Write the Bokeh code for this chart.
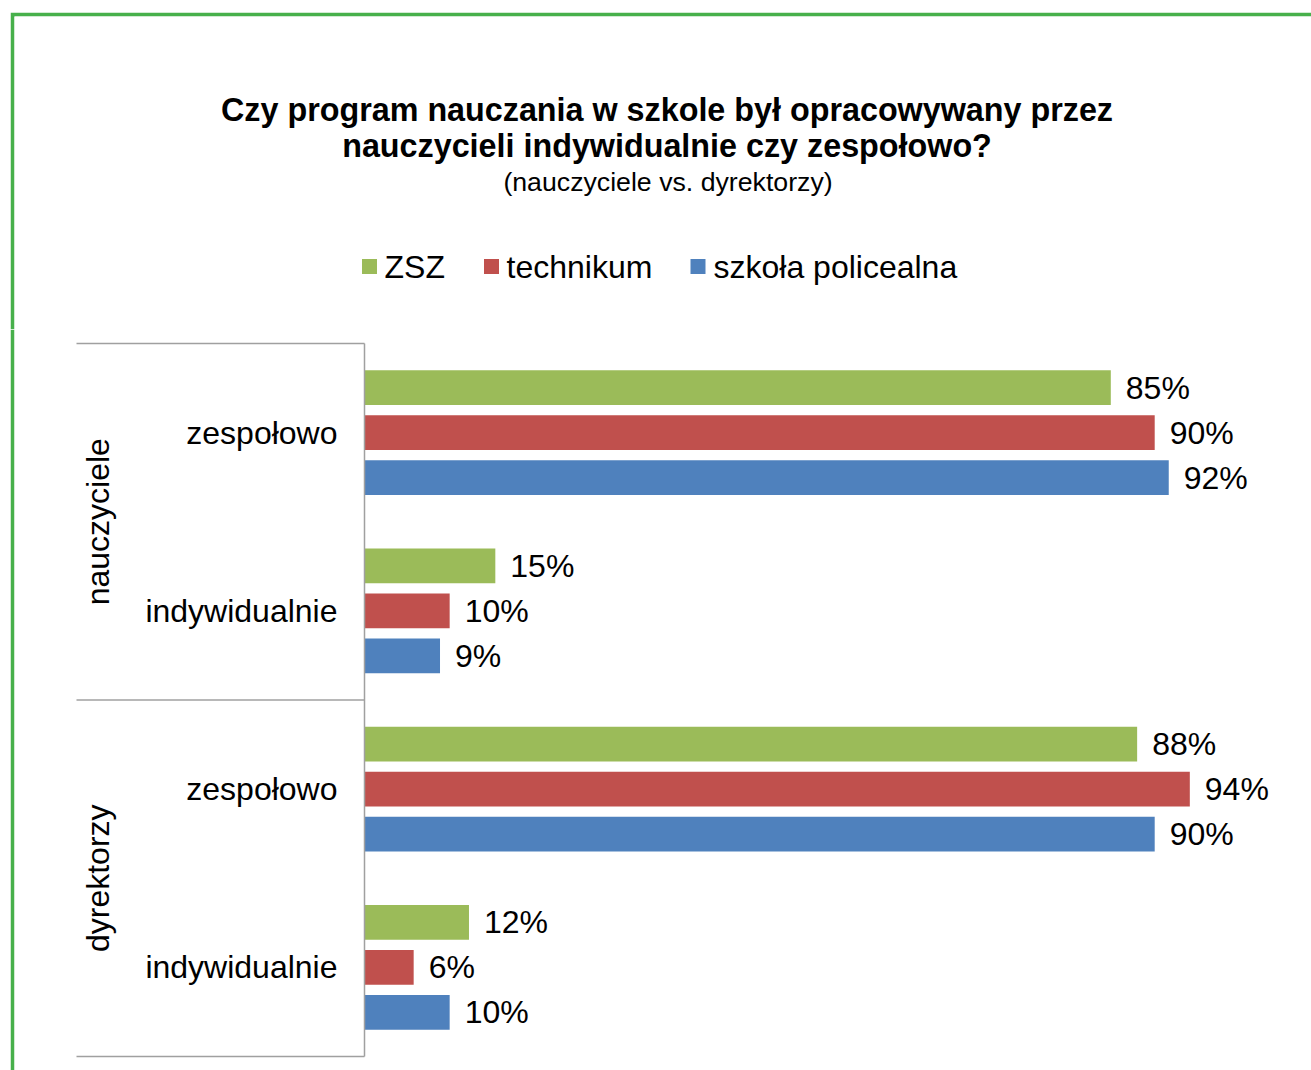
import math
from bokeh.plotting import figure
from bokeh.models import ColumnDataSource, FactorRange, Range1d, Spacer
from bokeh.layouts import row, column
from bokeh.transform import dodge
from bokeh.core.properties import value
from bokeh.embed import file_html
from bokeh.resources import INLINE

# ---------------- data ----------------
title_lines = ["Czy program nauczania w szkole był opracowywany przez",
               "nauczycieli indywidualnie czy zespołowo?"]
subtitle = "(nauczyciele vs. dyrektorzy)"
groups = ["nauczyciele", "dyrektorzy"]
answers = ["zespołowo", "indywidualnie"]
series = ["ZSZ", "technikum", "szkoła policealna"]
# percent, rows: nauczyciele/zespołowo, nauczyciele/indywidualnie, dyrektorzy/zespołowo, dyrektorzy/indywidualnie
zsz = [85, 14.9, 88, 11.9]
technikum = [90, 9.7, 94, 5.6]
policealna = [91.6, 8.6, 90, 9.7]

# ---------------- style / layout ----------------
FONT = "Liberation Sans"
GREEN = "#47B04B"
colors = ["#9BBB59", "#C0504D", "#4F81BD"]
AXIS_GRAY = "#A0A0A0"
PX = 8.78            # pixels per percentage point
W = 1301
HA = 317
HB = 741

# ---------------- header figure ----------------
fa = figure(width=W, height=HA, title=None, output_backend="svg", toolbar_location=None,
            x_range=Range1d(0, W - 4), y_range=Range1d(HA - 4, 0),
            x_axis_location=None, y_axis_location=None,
            min_border_left=4, min_border_top=4, min_border_right=0, min_border_bottom=0,
            border_fill_color=GREEN, background_fill_color="white", outline_line_color=None)
fa.grid.visible = False

fa.text(x=[652.5, 652.5], y=[93, 129.5], text=title_lines, text_align="center",
        text_baseline="middle", text_font=value(FONT), text_font_style="bold",
        text_font_size="32.3px", text_color="black")
fa.text(x=[653.5], y=[165], text=[subtitle], text_align="center",
        text_baseline="middle", text_font=value(FONT),
        text_font_size="26.7px", text_color="black")

leg_sq_x = [355, 477, 683.5]
leg_tx_x = [370, 492, 699]
fa.rect(x=leg_sq_x, y=[250] * 3, width=15, height=15, fill_color=colors, line_color=None)
fa.text(x=leg_tx_x, y=[250] * 3, text=series, text_baseline="middle",
        text_font=value(FONT), text_font_size="32px", text_color="black")

# ---------------- bar figure ----------------
rows = [(g, a) for g in groups for a in answers]
factors = list(reversed(rows))   # first factor is drawn at the bottom
pad_units = 14 / (713 / 4)
y_range = FactorRange(factors=factors, group_padding=0, factor_padding=0,
                      range_padding=pad_units * 2 / 4, range_padding_units="percent")
x_range = Range1d(-350 / PX, (W - 4 - 350) / PX)

p = figure(width=W, height=HB, title=None, output_backend="svg", toolbar_location=None,
           x_range=x_range, y_range=y_range,
           x_axis_location=None, y_axis_location=None,
           min_border_left=4, min_border_top=0, min_border_right=0, min_border_bottom=0,
           border_fill_color=GREEN, background_fill_color="white", outline_line_color=None)
p.grid.visible = False

fmt = lambda vals: [f"{v:.0f}%" for v in vals]
src = ColumnDataSource(dict(cat=rows, zsz=zsz, tech=technikum, pol=policealna,
                            zsz_l=fmt(zsz), tech_l=fmt(technikum), pol_l=fmt(policealna)))

offsets = [0.2525, 0.0, -0.2525]
for col, color, off in zip(["zsz", "tech", "pol"], colors, offsets):
    yy = dodge("cat", off, range=p.y_range)
    p.hbar(y=yy, left=0, right=col, height=0.196, fill_color=color, line_color=None, source=src)
    p.text(x=col, y=yy, text=col + "_l", x_offset=15, text_baseline="middle",
           text_font=value(FONT), text_font_size="32px", text_color="black", source=src)

# category labels
p.text(x=[0] * len(rows), y=rows, text=[a for g, a in rows], x_offset=-27,
       text_align="right", text_baseline="middle", text_font=value(FONT),
       text_font_size="32px", text_color="black")

gsrc = ColumnDataSource(dict(anchor=[(g, answers[1]) for g in groups], name=groups))
p.text(x=0, y=dodge("anchor", 0.5, range=p.y_range), text="name", x_offset=-267,
       angle=math.pi / 2, text_align="center", text_baseline="middle",
       text_font=value(FONT), text_font_size="32px", text_color="black", source=gsrc)

# axis line and group separators
sep_x0 = -288 / PX
top_src = ColumnDataSource(dict(c=[rows[0]]))
p.segment(x0=sep_x0, x1=0, y0=dodge("c", 0.5, range=p.y_range), y1=dodge("c", 0.5, range=p.y_range),
          line_color=AXIS_GRAY, line_width=1.5, source=top_src)
low_src = ColumnDataSource(dict(c=[(g, answers[1]) for g in groups]))
p.segment(x0=sep_x0, x1=0, y0=dodge("c", -0.5, range=p.y_range), y1=dodge("c", -0.5, range=p.y_range),
          line_color=AXIS_GRAY, line_width=1.5, source=low_src)
ax_src = ColumnDataSource(dict(b=[rows[-1]], t=[rows[0]]))
p.segment(x0=0, x1=0, y0=dodge("b", -0.5, range=p.y_range), y1=dodge("t", 0.5, range=p.y_range),
          line_color=AXIS_GRAY, line_width=1.5, source=ax_src)

layout = row(Spacer(width=10), column(Spacer(height=12), fa, p))
open("out.html", "w").write(file_html(layout, INLINE))
